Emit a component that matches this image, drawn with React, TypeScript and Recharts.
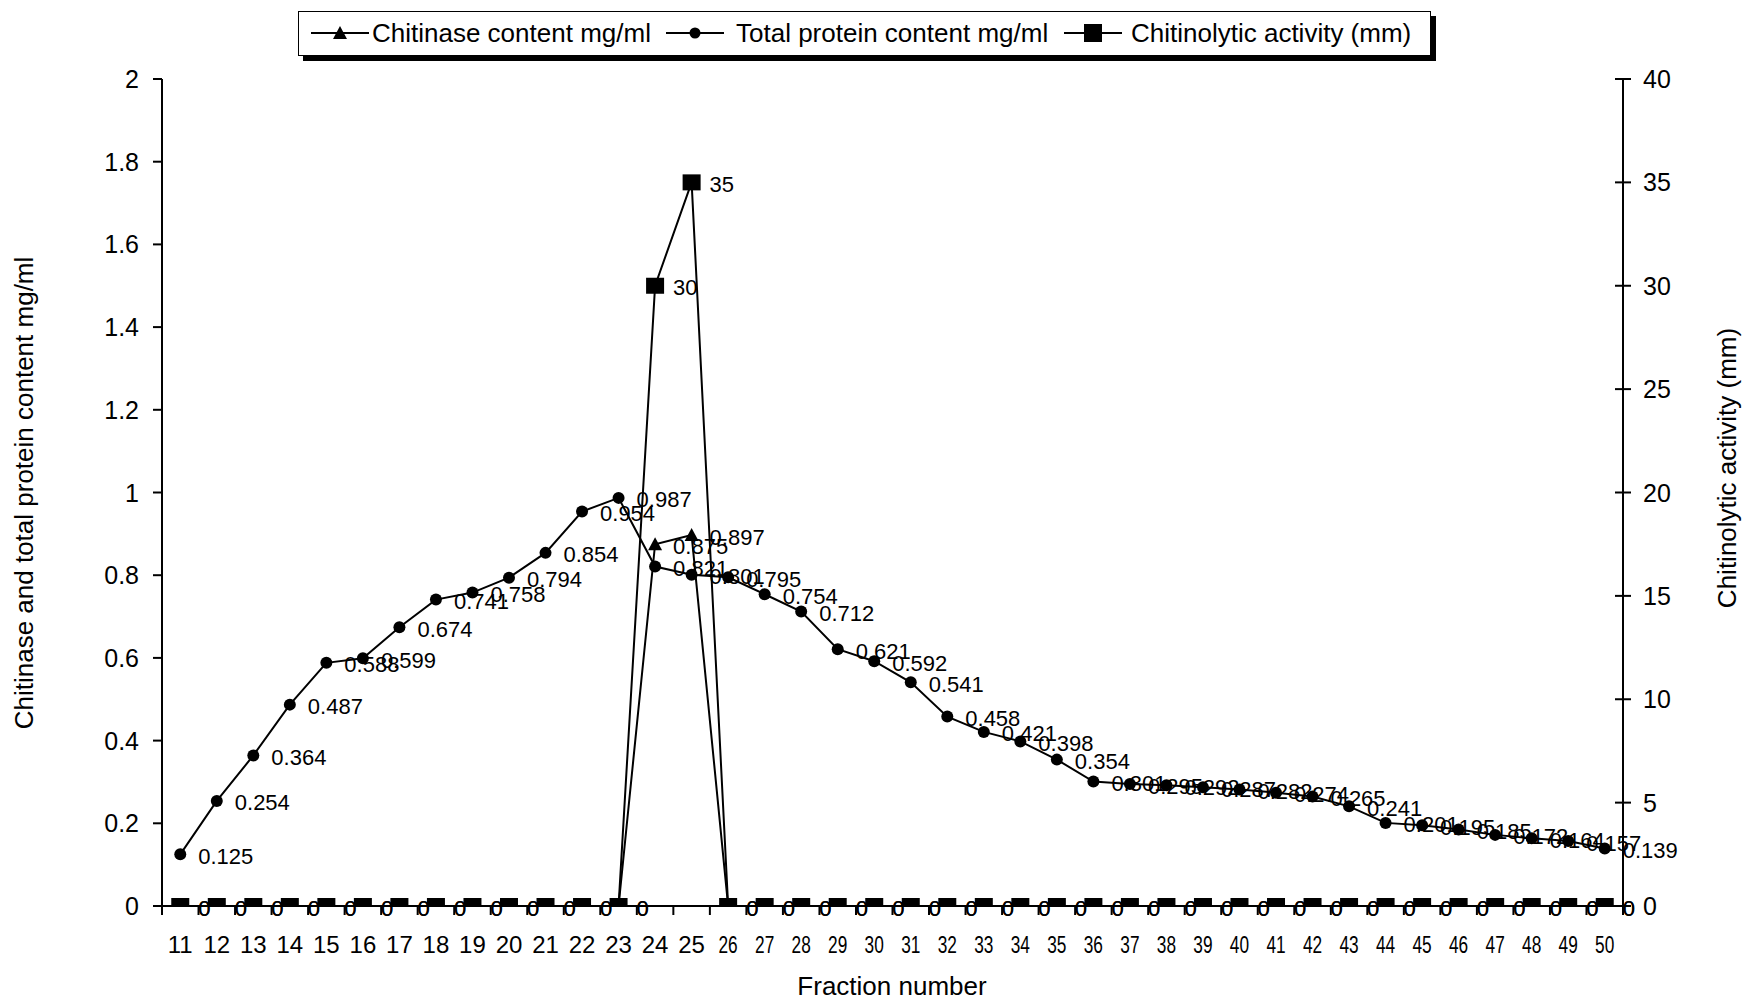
import React from 'react';
import { ComposedChart, Line, XAxis, YAxis, LabelList } from 'recharts';

const fractions = [11, 12, 13, 14, 15, 16, 17, 18, 19, 20, 21, 22, 23, 24, 25, 26, 27, 28, 29, 30,
  31, 32, 33, 34, 35, 36, 37, 38, 39, 40, 41, 42, 43, 44, 45, 46, 47, 48, 49, 50];

const chitinase = [0, 0, 0, 0, 0, 0, 0, 0, 0, 0, 0, 0, 0, 0.875, 0.897, 0, 0, 0, 0, 0,
  0, 0, 0, 0, 0, 0, 0, 0, 0, 0, 0, 0, 0, 0, 0, 0, 0, 0, 0, 0];

const protein = [0.125, 0.254, 0.364, 0.487, 0.588, 0.599, 0.674, 0.741, 0.758, 0.794,
  0.854, 0.954, 0.987, 0.821, 0.801, 0.795, 0.754, 0.712, 0.621, 0.592,
  0.541, 0.458, 0.421, 0.398, 0.354, 0.301, 0.295, 0.292, 0.287, 0.282,
  0.274, 0.265, 0.241, 0.201, 0.195, 0.185, 0.172, 0.164, 0.157, 0.139];

const activity = [0, 0, 0, 0, 0, 0, 0, 0, 0, 0, 0, 0, 0, 30, 35, 0, 0, 0, 0, 0,
  0, 0, 0, 0, 0, 0, 0, 0, 0, 0, 0, 0, 0, 0, 0, 0, 0, 0, 0, 0];

const leftTicks = [0, 0.2, 0.4, 0.6, 0.8, 1, 1.2, 1.4, 1.6, 1.8, 2];
const rightTicks = [0, 5, 10, 15, 20, 25, 30, 35, 40];

const seriesNames = ['Chitinase content mg/ml', 'Total protein content mg/ml', 'Chitinolytic activity (mm)'];
const xTitle = 'Fraction number';
const leftTitle = 'Chitinase and total protein content mg/ml';
const rightTitle = 'Chitinolytic activity (mm)';

const data = fractions.map((f, i) => ({
  fraction: String(f),
  chitinase: chitinase[i],
  protein: protein[i],
  activity: activity[i],
}));

const W = 1746;
const H = 1000;
const PLOT_LEFT = 162;
const PLOT_RIGHT = 1623;
const PLOT_TOP = 79;
const PLOT_BOTTOM = 906;
const HALF = (PLOT_RIGHT - PLOT_LEFT) / (fractions.length * 2);
const FONT = '"Liberation Sans", Arial, Helvetica, sans-serif';

const TriangleDot = (p: any) => {
  if (p.cx == null || p.cy == null) return <g key={`t${p.index}`} />;
  const { cx, cy } = p;
  return <path key={`t${p.index}`} d={`M${cx},${cy - 7} L${cx + 7},${cy + 6} L${cx - 7},${cy + 6} Z`} fill="#000" />;
};
const CircleDot = (p: any) => {
  if (p.cx == null || p.cy == null) return <g key={`c${p.index}`} />;
  return <circle key={`c${p.index}`} cx={p.cx} cy={p.cy} r={6} fill="#000" />;
};
const SquareDot = (p: any) => {
  if (p.cx == null || p.cy == null) return <g key={`s${p.index}`} />;
  return <rect key={`s${p.index}`} x={p.cx - 9} y={p.cy - 8} width={18} height={16} fill="#000" />;
};

const DataLabel = (p: any) => {
  const x = p.viewBox && p.viewBox.x != null ? p.viewBox.x : p.x;
  const y = p.viewBox && p.viewBox.y != null ? p.viewBox.y : p.y;
  if (x == null || y == null) return null;
  return (
    <text x={x + 18} y={y + 2} fontSize={22} fontFamily={FONT} fill="#000" dominantBaseline="central">
      {String(p.value)}
    </text>
  );
};

const XTick = (p: any) => {
  const { x, payload } = p;
  const v = String(payload.value);
  const narrow = Number(v) >= 26;
  return (
    <g>
      <line x1={x - HALF} x2={x - HALF} y1={PLOT_BOTTOM} y2={PLOT_BOTTOM + 9} stroke="#000" strokeWidth={2} />
      {v === '50' && (
        <line x1={x + HALF} x2={x + HALF} y1={PLOT_BOTTOM} y2={PLOT_BOTTOM + 9} stroke="#000" strokeWidth={2} />
      )}
      <text
        x={x}
        y={944}
        textAnchor="middle"
        dominantBaseline="central"
        fontSize={24}
        fontFamily={FONT}
        fill="#000"
        transform={narrow ? `translate(${x},0) scale(0.72,1) translate(${-x},0)` : undefined}
      >
        {v}
      </text>
    </g>
  );
};

const LeftTick = (p: any) => {
  const { y, payload } = p;
  return (
    <g>
      <line x1={PLOT_LEFT - 9} x2={PLOT_LEFT} y1={y} y2={y} stroke="#000" strokeWidth={2} />
      <text x={139} y={y} textAnchor="end" dominantBaseline="central" fontSize={25} fontFamily={FONT} fill="#000">
        {String(payload.value)}
      </text>
    </g>
  );
};

const RightTick = (p: any) => {
  const { y, payload } = p;
  return (
    <g>
      <line x1={PLOT_RIGHT - 8} x2={PLOT_RIGHT + 8} y1={y} y2={y} stroke="#000" strokeWidth={2} />
      <text x={1643} y={y} textAnchor="start" dominantBaseline="central" fontSize={25} fontFamily={FONT} fill="#000">
        {String(payload.value)}
      </text>
    </g>
  );
};

const LegendIcon = ({ kind }: { kind: string }) => (
  <svg width={58} height={24} style={{ display: 'block' }}>
    <line x1={0} x2={58} y1={12} y2={12} stroke="#000" strokeWidth={2} />
    {kind === 'triangle' && <path d="M29,5 L36,18 L22,18 Z" fill="#000" />}
    {kind === 'circle' && <circle cx={29} cy={12} r={5.5} fill="#000" />}
    {kind === 'square' && <rect x={20} y={3} width={18} height={18} fill="#000" />}
  </svg>
);

const legendItems = [
  { name: seriesNames[0], kind: 'triangle', iconLeft: 12, textLeft: 73 },
  { name: seriesNames[1], kind: 'circle', iconLeft: 367, textLeft: 437 },
  { name: seriesNames[2], kind: 'square', iconLeft: 765, textLeft: 832 },
];

export default function App() {
  return (
    <div style={{ position: 'absolute', left: 0, top: 0, width: W, height: H, background: '#fff', overflow: 'hidden' }}>
      <ComposedChart
        width={W}
        height={H}
        data={data}
        margin={{ top: PLOT_TOP, right: W - PLOT_RIGHT - 110, bottom: 0, left: PLOT_LEFT - 110 }}
      >
        <XAxis
          dataKey="fraction"
          type="category"
          scale="point"
          padding={{ left: HALF, right: HALF }}
          interval={0}
          height={H - PLOT_BOTTOM}
          axisLine={{ stroke: '#000', strokeWidth: 2 }}
          tickLine={false}
          tick={<XTick />}
        />
        <YAxis
          yAxisId="left"
          orientation="left"
          domain={[0, 2]}
          ticks={leftTicks}
          width={110}
          axisLine={{ stroke: '#000', strokeWidth: 2 }}
          tickLine={false}
          tick={<LeftTick />}
          allowDataOverflow
        />
        <YAxis
          yAxisId="right"
          orientation="right"
          domain={[0, 40]}
          ticks={rightTicks}
          width={110}
          axisLine={{ stroke: '#000', strokeWidth: 2 }}
          tickLine={false}
          tick={<RightTick />}
          allowDataOverflow
        />
        <Line
          yAxisId="left"
          dataKey="chitinase"
          name={seriesNames[0]}
          type="linear"
          stroke="#000"
          strokeWidth={2}
          dot={TriangleDot}
          activeDot={false}
          isAnimationActive={false}
        >
          <LabelList dataKey="chitinase" content={DataLabel} />
        </Line>
        <Line
          yAxisId="left"
          dataKey="protein"
          name={seriesNames[1]}
          type="linear"
          stroke="#000"
          strokeWidth={2}
          dot={CircleDot}
          activeDot={false}
          isAnimationActive={false}
        >
          <LabelList dataKey="protein" content={DataLabel} />
        </Line>
        <Line
          yAxisId="right"
          dataKey="activity"
          name={seriesNames[2]}
          type="linear"
          stroke="#000"
          strokeWidth={2}
          dot={SquareDot}
          activeDot={false}
          isAnimationActive={false}
        >
          <LabelList dataKey="activity" content={DataLabel} />
        </Line>
      </ComposedChart>

      <svg
        width={W}
        height={H}
        style={{ position: 'absolute', left: 0, top: 0, pointerEvents: 'none' }}
      >
        <text x={24} y={493} transform="rotate(-90 24 493)" textAnchor="middle" dominantBaseline="central"
          fontSize={26} fontFamily={FONT} fill="#000">{leftTitle}</text>
        <text x={1727} y={468} transform="rotate(-90 1727 468)" textAnchor="middle" dominantBaseline="central"
          fontSize={26} fontFamily={FONT} fill="#000">{rightTitle}</text>
        <text x={892} y={986} textAnchor="middle" dominantBaseline="central"
          fontSize={26} fontFamily={FONT} fill="#000">{xTitle}</text>
      </svg>

      <div
        style={{
          position: 'absolute',
          left: 298,
          top: 11,
          width: 1133,
          height: 45,
          boxSizing: 'border-box',
          border: '1.5px solid #000',
          boxShadow: '5px 5px 0 #000',
          background: '#fff',
          fontFamily: FONT,
          fontSize: 26,
          color: '#000',
        }}
      >
        {legendItems.map((it) => (
          <React.Fragment key={it.name}>
            <div style={{ position: 'absolute', left: it.iconLeft, top: 9 }}>
              <LegendIcon kind={it.kind} />
            </div>
            <div style={{ position: 'absolute', left: it.textLeft, top: 0, lineHeight: '42px', whiteSpace: 'nowrap' }}>
              {it.name}
            </div>
          </React.Fragment>
        ))}
      </div>
    </div>
  );
}
